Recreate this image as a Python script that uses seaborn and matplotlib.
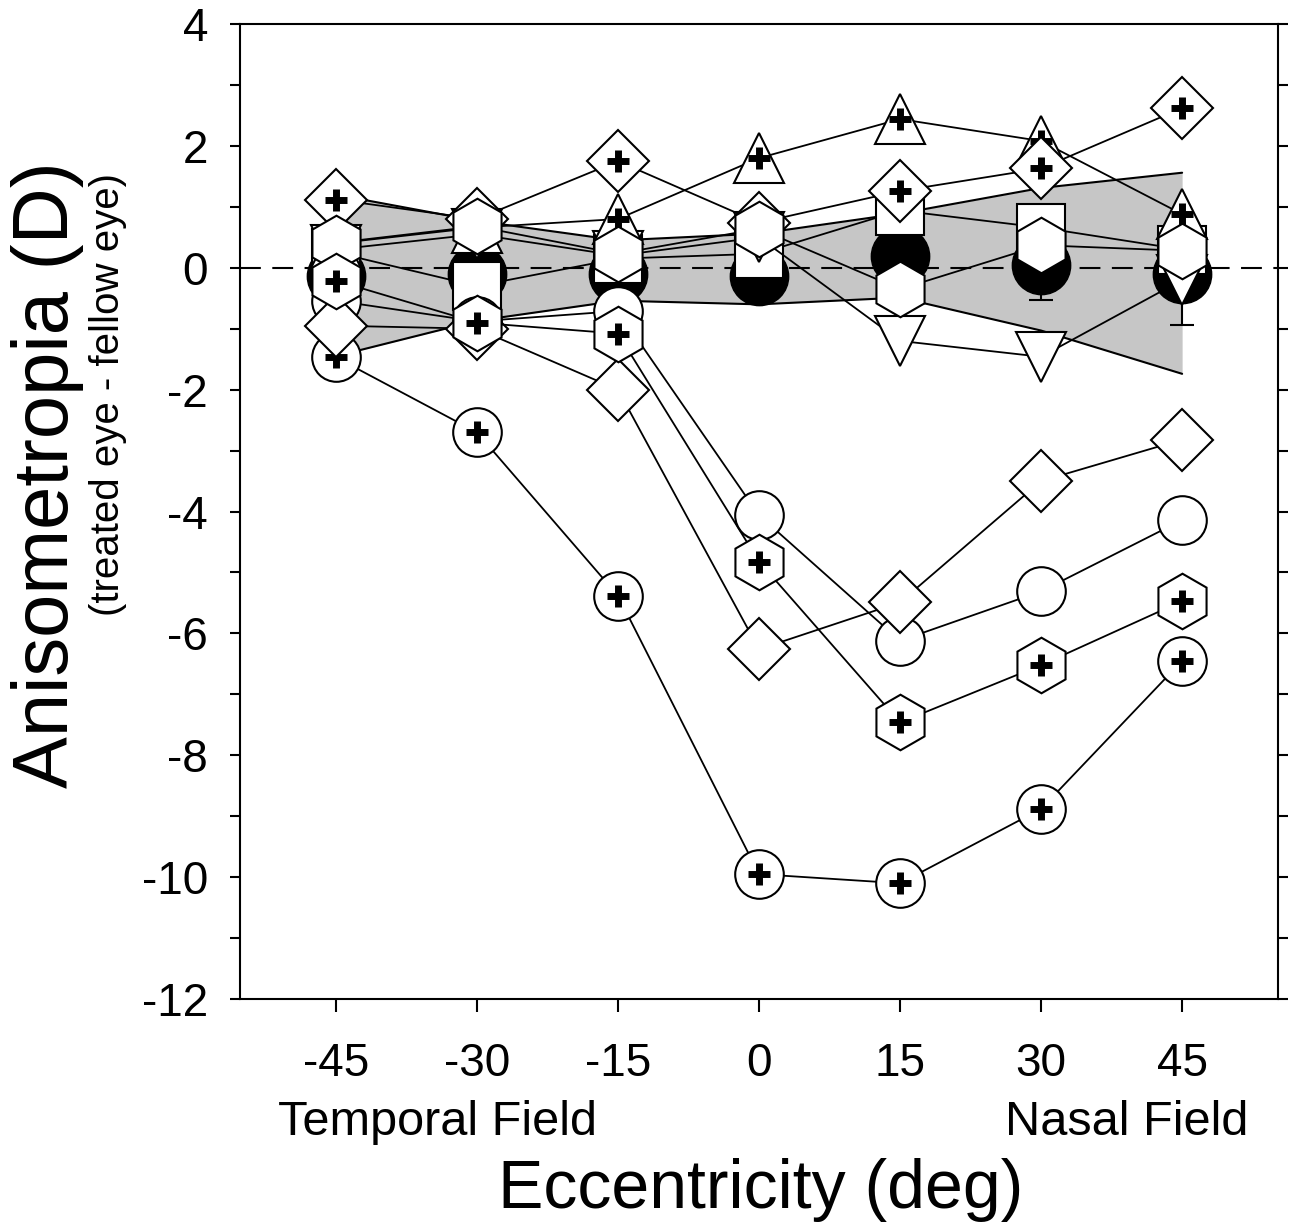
import numpy as np
import seaborn as sns
import matplotlib.pyplot as plt
from matplotlib.ticker import MultipleLocator

sns.set_theme(style="ticks")
plt.rcParams['font.family'] = ['Liberation Sans', 'DejaVu Sans']
plt.rcParams['axes.unicode_minus'] = False

# eccentricity (deg), negative = temporal field
ecc = [-45, -30, -15, 0, 15, 30, 45]

# normal range (shaded band)
band_upper = [1.2, 0.77, 0.45, 0.56, 0.89, 1.31, 1.56]
band_lower = [-1.45, -0.87, -0.54, -0.6, -0.49, -1.03, -1.74]

# mean of fellow/control eyes with lower error
mean_vals = [-0.13, -0.1, -0.1, -0.13, 0.2, 0.05, -0.1]
mean_err = [0.35, 0.3, 0.3, 0.3, 0.4, 0.58, 0.84]

# individual treated eyes
circle_plus = [-1.47, -2.70, -5.38, -9.95, -10.1, -8.88, -6.45]
hex_plus = [-0.21, -0.9, -1.08, -4.82, -7.46, -6.52, -5.47]
circle_open = [-0.54, -0.88, -0.71, -4.06, -6.12, -5.31, -4.14]
diamond_open = [-0.95, -1.0, -2.0, -6.26, -5.49, -3.5, -2.82]
diamond_plus = [1.12, 0.8, 1.75, 0.74, 1.26, 1.63, 2.62]
tri_up_plus = [0.4, 0.66, 0.8, 1.8, 2.44, 2.08, 0.88]
tri_down = [0.3, 0.55, 0.2, 0.5, -1.2, -1.46, -0.2]
square_open = [0.25, -0.3, 0.15, 0.23, 0.94, 0.66, 0.3]
hex_open = [0.41, 0.68, 0.23, 0.64, -0.35, 0.37, 0.28]

fig = plt.figure(figsize=(12.95, 12.26), dpi=100)
ax = fig.add_axes([0.1853, 0.1851, 0.8016, 0.7953])

ax.fill_between(ecc, band_lower, band_upper, color='#c6c6c6', lw=0, zorder=1)
ax.plot(ecc, band_upper, color='black', lw=1.5, zorder=1.2)
ax.plot(ecc, band_lower, color='black', lw=1.5, zorder=1.2)
ax.axhline(0, color='black', lw=1.5, ls=(0, (10, 5.5)), zorder=1.5)

ax.errorbar(ecc, mean_vals, yerr=[mean_err, np.zeros(len(ecc))], fmt='o', ms=42,
            mfc='black', mec='black', ecolor='black', elinewidth=1.5,
            capsize=8.3, capthick=1.5, zorder=2)

series = [
    (square_open, 's', 34, False, 3),
    (circle_open, 'o', 35, False, 4),
    (tri_down, 'v', 36, False, 4.5),
    (tri_up_plus, '^', 36, True, 5),
    (diamond_plus, 'D', 31.5, True, 6),
    (hex_open, 'h', 40, False, 7),
    (circle_plus, 'o', 35, True, 7.4),
    (diamond_open, 'D', 31.5, False, 7.6),
    (hex_plus, 'h', 40, True, 8),
]

for vals, mk, ms, plus, z in series:
    sns.lineplot(x=ecc, y=vals, ax=ax, color='black', lw=1.3, marker=mk,
                 markersize=ms, markerfacecolor='white', markeredgecolor='black',
                 markeredgewidth=1.5, legend=False, zorder=z)
    if plus:
        sns.scatterplot(x=ecc, y=vals, ax=ax, marker='+', s=16 ** 2,
                        color='black', linewidth=5, legend=False, zorder=z + 0.1)

ax.set_xlim(-55.2, 55.2)
ax.set_ylim(-12, 4)
ax.set_xticks(ecc)
ax.set_yticks(np.arange(-12, 5, 2))
ax.yaxis.set_minor_locator(MultipleLocator(1))
ax.set_xlabel('')
ax.set_ylabel('')

for sp in ax.spines.values():
    sp.set_linewidth(1.5)
    sp.set_color('black')

ax.tick_params(axis='y', which='both', direction='out', length=7, width=1.5,
               right=True, labelsize=33, pad=16, colors='black')
ax.tick_params(axis='x', direction='out', length=9, width=1.5, labelsize=33,
               pad=22, colors='black')

fig.text(0.037, 0.6126, 'Anisometropia (D)', rotation=90, ha='center', va='center',
         fontsize=56, color='black')
fig.text(0.0834, 0.678, '(treated eye - fellow eye)', rotation=90, ha='center', va='center',
         fontsize=29, color='black')
fig.text(0.3375, 0.0848, 'Temporal Field', ha='center', va='center', fontsize=35, color='black')
fig.text(0.870, 0.0848, 'Nasal Field', ha='center', va='center', fontsize=35, color='black')
fig.text(0.5876, 0.0294, 'Eccentricity (deg)', ha='center', va='center', fontsize=49, color='black')

fig.savefig('out.png', dpi=100)
